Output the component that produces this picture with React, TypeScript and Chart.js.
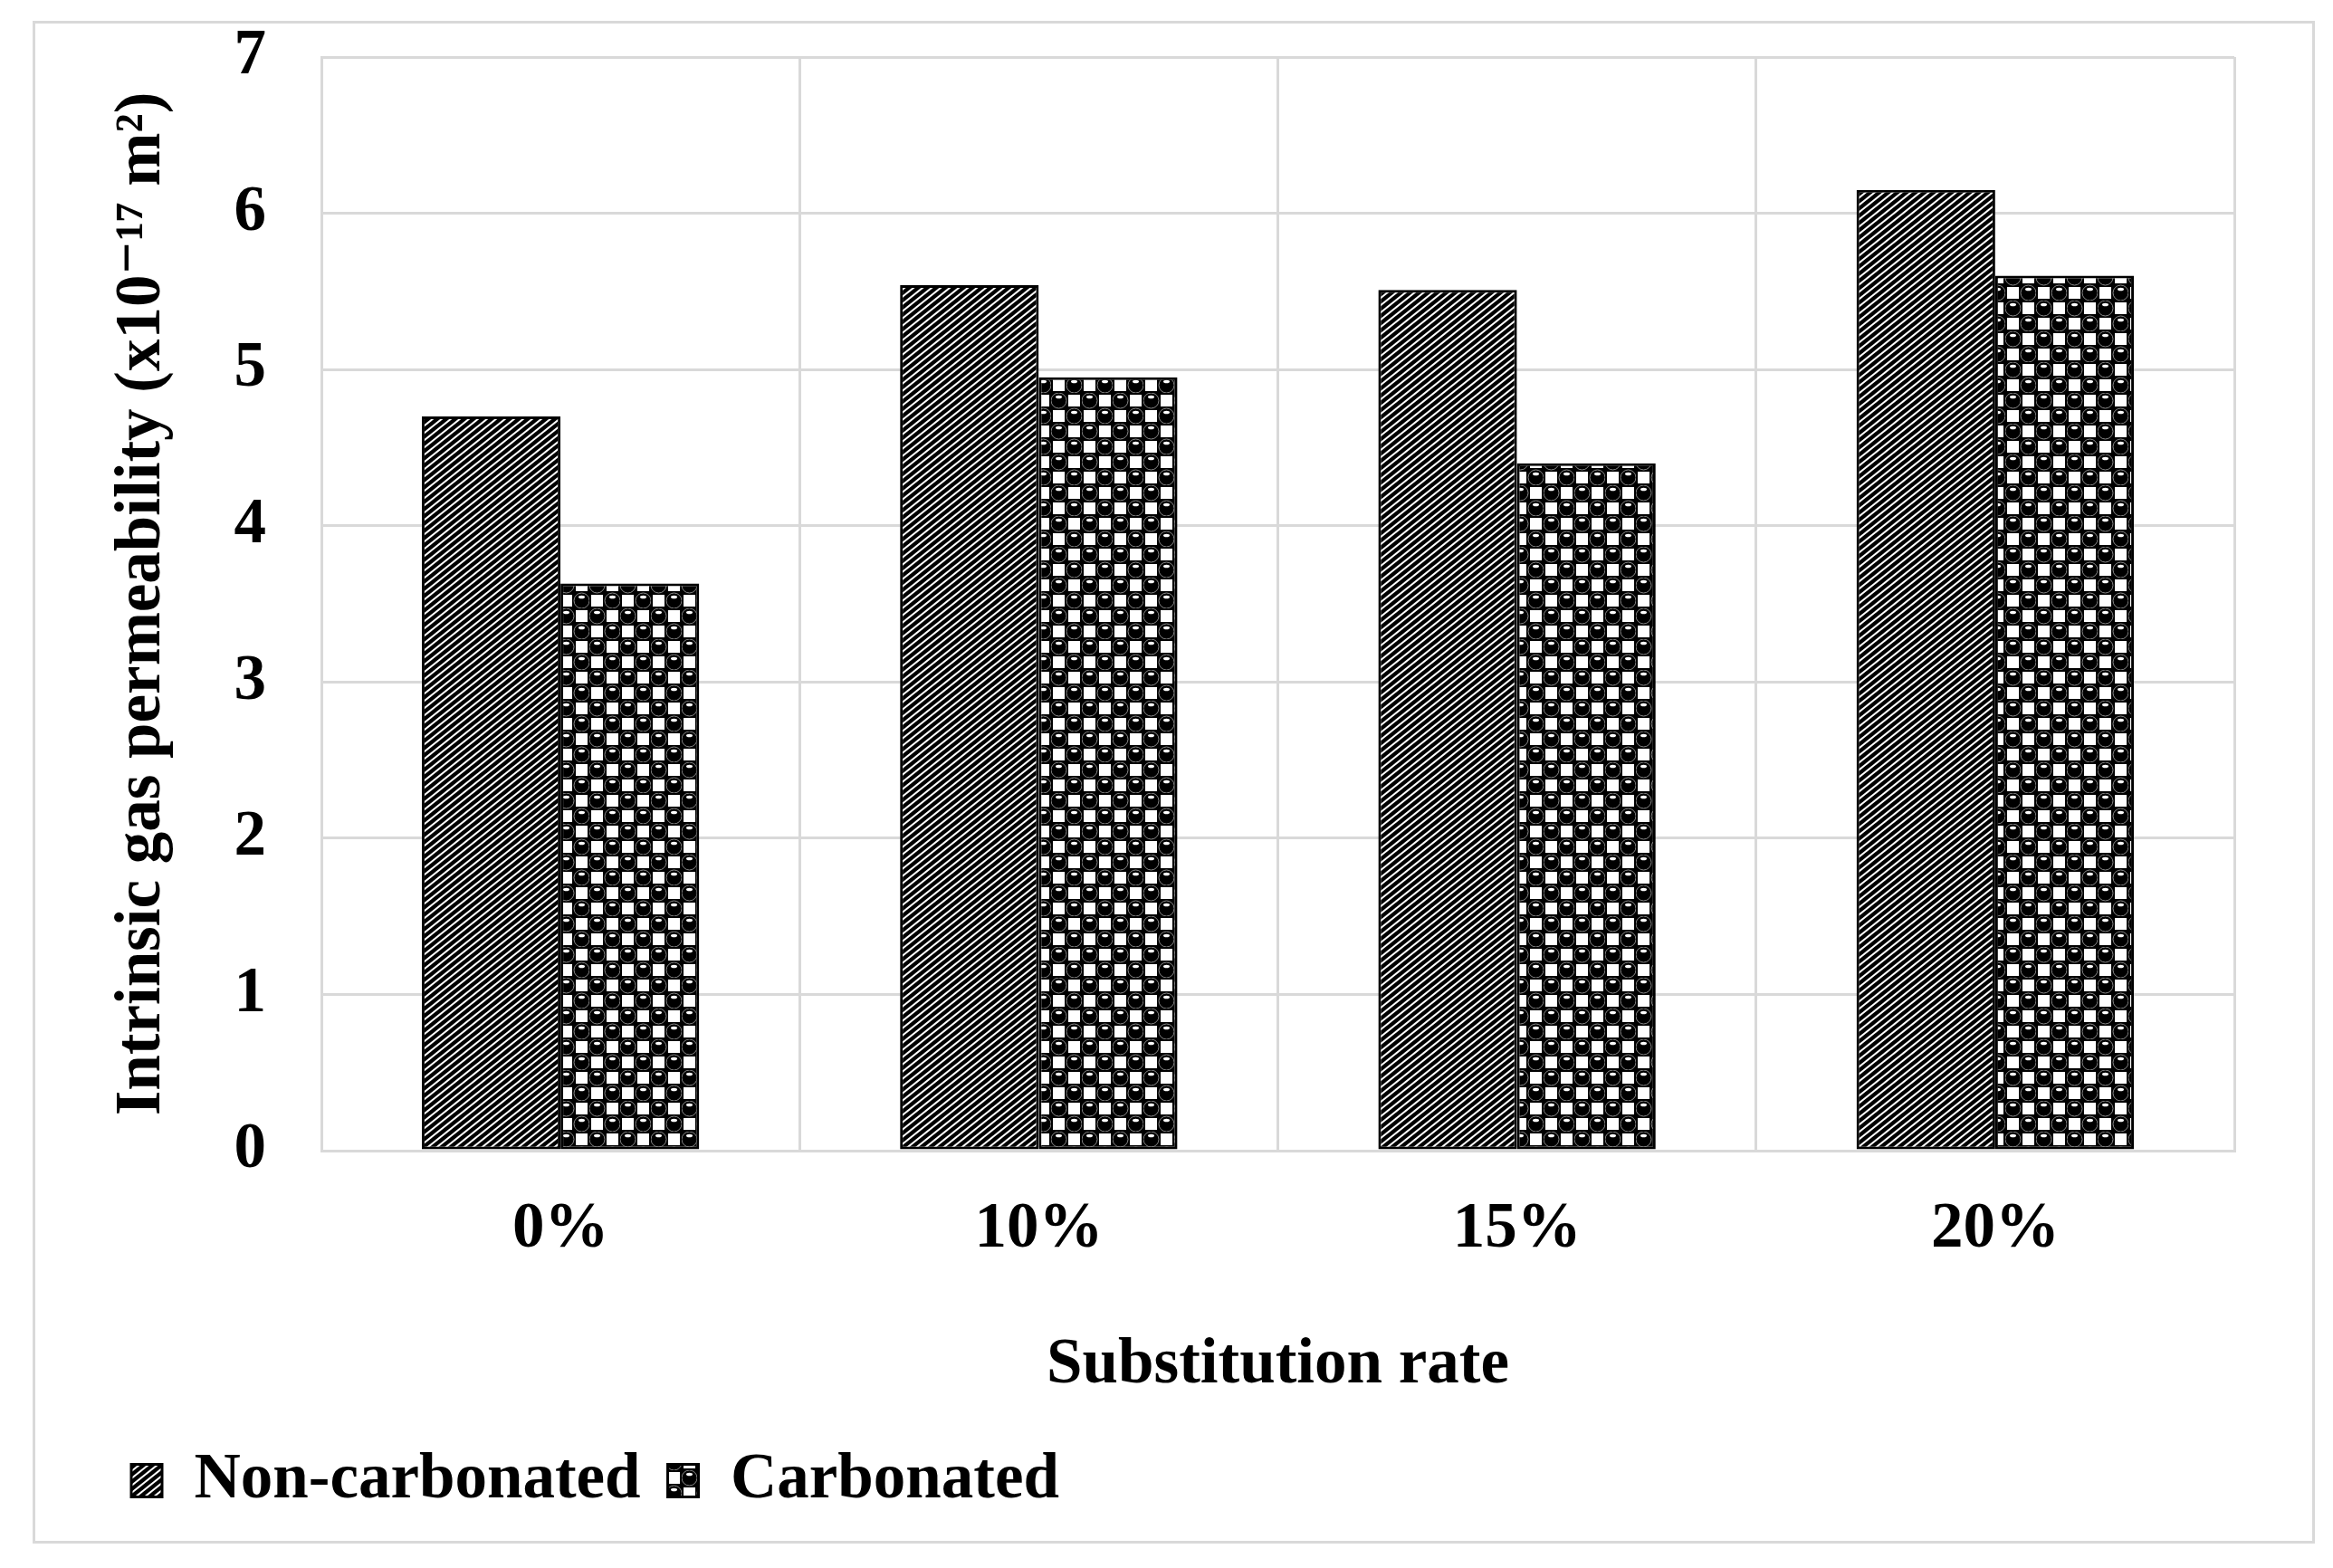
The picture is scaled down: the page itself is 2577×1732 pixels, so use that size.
import React, { useEffect, useRef } from 'react';
import { Chart, registerables } from 'chart.js';

Chart.register(...registerables);

const categories = ['0%', '10%', '15%', '20%'];
const nonCarbonated = [4.7, 5.54, 5.51, 6.15];
const carbonated = [3.63, 4.95, 4.4, 5.6];
const yTickValues = [0, 1, 2, 3, 4, 5, 6, 7];
const seriesNames = ['Non-carbonated', 'Carbonated'];
const yTitle = 'Intrinsic gas permeability (x10\u207B\u00B9\u2077 m\u00B2)';
const xTitle = 'Substitution rate';

const FONT_FAMILY = '"Liberation Serif", "Times New Roman", "DejaVu Serif", serif';

function makeHatch(): CanvasPattern | string {
  const w = 10;
  const h = 8;
  const c = document.createElement('canvas');
  c.width = w;
  c.height = h;
  const ctx = c.getContext('2d');
  if (!ctx) return '#555';
  ctx.fillStyle = '#fff';
  ctx.fillRect(0, 0, w, h);
  ctx.strokeStyle = '#000';
  ctx.lineWidth = 4.2;
  for (const dx of [-w, 0, w]) {
    ctx.beginPath();
    ctx.moveTo(dx - w, 2 * h);
    ctx.lineTo(dx + 2 * w, -h);
    ctx.stroke();
  }
  return ctx.createPattern(c, 'repeat') || '#555';
}

function makeSpheres(): CanvasPattern | string {
  const s = 34;
  const q = s / 4;
  const c = document.createElement('canvas');
  c.width = s;
  c.height = s;
  const ctx = c.getContext('2d');
  if (!ctx) return '#333';
  ctx.fillStyle = '#000';
  ctx.fillRect(0, 0, s, s);
  ctx.fillStyle = '#fff';
  const sq = 13;
  ctx.fillRect(3 * q - sq / 2, q - sq / 2, sq, sq);
  ctx.fillRect(q - sq / 2, 3 * q - sq / 2, sq, sq);
  ctx.strokeStyle = '#8a8a8a';
  ctx.lineWidth = 1;
  for (const [cx, cy] of [[q, q], [3 * q, 3 * q]]) {
    ctx.beginPath();
    ctx.arc(cx, cy, 8.5, 0, Math.PI * 2);
    ctx.stroke();
  }
  ctx.fillStyle = '#fff';
  for (const [cx, cy] of [[q, q], [3 * q, 3 * q]]) {
    ctx.beginPath();
    ctx.ellipse(cx, cy - 4, 3.5, 1.8, 0, 0, Math.PI * 2);
    ctx.fill();
  }
  return ctx.createPattern(c, 'repeat') || '#333';
}

export default function App() {
  const canvasRef = useRef<HTMLCanvasElement | null>(null);

  useEffect(() => {
    const canvas = canvasRef.current;
    if (!canvas) return;
    const font = { family: FONT_FAMILY, size: 71, weight: 'bold' as const };
    const hatch = makeHatch();
    const spheres = makeSpheres();
    const chart = new Chart(canvas, {
      type: 'bar',
      data: {
        labels: categories,
        datasets: [
          {
            label: seriesNames[0],
            data: nonCarbonated,
            backgroundColor: hatch as any,
            borderColor: '#000',
            borderWidth: 3,
            borderSkipped: false,
          },
          {
            label: seriesNames[1],
            data: carbonated,
            backgroundColor: spheres as any,
            borderColor: '#000',
            borderWidth: 3,
            borderSkipped: false,
          },
        ],
      },
      options: {
        animation: false,
        responsive: false,
        devicePixelRatio: 1,
        layout: { padding: { left: 76, right: 86, top: 37, bottom: 21 } },
        datasets: { bar: { categoryPercentage: 0.58, barPercentage: 1 } },
        plugins: {
          legend: {
            position: 'bottom',
            align: 'start',
            labels: {
              font,
              color: '#000',
              boxWidth: 34,
              boxHeight: 36,
              padding: 30,
            },
          },
          tooltip: { enabled: false },
        },
        scales: {
          x: {
            grid: { color: '#d9d9d9', lineWidth: 3, drawTicks: false, offset: true },
            border: { color: '#d9d9d9', width: 3 },
            ticks: { font, color: '#000', padding: 45 },
            title: {
              display: true,
              text: xTitle,
              font,
              color: '#000',
              padding: { top: 0, bottom: 19 },
            },
            afterFit: (s: any) => {
              s.height = 299;
            },
          },
          y: {
            min: 0,
            max: 7,
            grid: {
              color: '#d9d9d9',
              lineWidth: 3,
              drawTicks: true,
              tickLength: 61,
              tickColor: 'rgba(0,0,0,0)',
            },
            border: { color: '#d9d9d9', width: 3 },
            ticks: {
              font: { ...font, lineHeight: 1 },
              color: '#000',
              padding: 0,
            },
            afterBuildTicks: (axis: any) => {
              axis.ticks = yTickValues.map((v) => ({ value: v }));
            },
            title: {
              display: true,
              text: yTitle,
              font,
              color: '#000',
              padding: { top: 0, bottom: 0 },
            },
            afterFit: (s: any) => {
              s.width = 240;
            },
          },
        },
      },
    });
    return () => {
      chart.destroy();
    };
  }, []);

  return (
    <div
      style={{
        position: 'absolute',
        left: 0,
        top: 0,
        width: 2577,
        height: 1732,
        background: '#fff',
        overflow: 'hidden',
      }}
    >
      <div
        style={{
          position: 'absolute',
          left: 36,
          top: 23,
          width: 2521,
          height: 1682,
          boxSizing: 'border-box',
          border: '3px solid #d9d9d9',
          background: '#fff',
        }}
      >
        <canvas
          ref={canvasRef}
          width={2515}
          height={1676}
          style={{ display: 'block', width: 2515, height: 1676 }}
        />
      </div>
    </div>
  );
}
